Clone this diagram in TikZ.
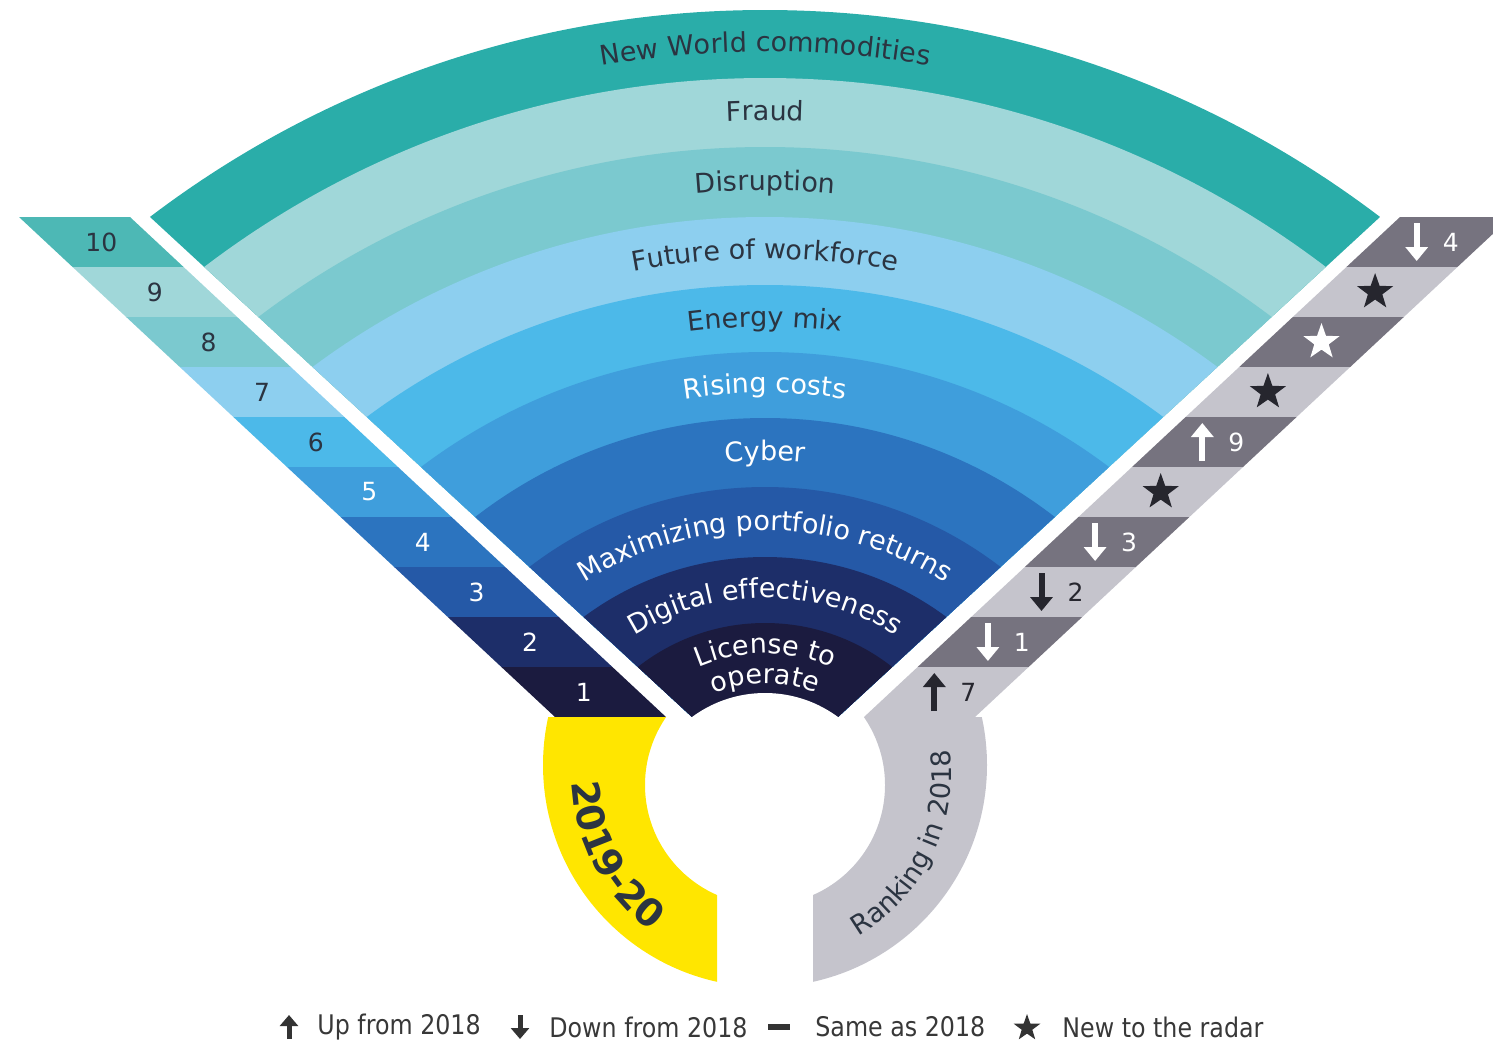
\documentclass[tikz,border=0pt]{standalone}
\usepackage{fontspec}
\setmainfont{DejaVu Sans}
\newfontfamily\legendfont[FakeStretch=0.88]{DejaVu Sans}
\usetikzlibrary{shapes.geometric,arrows.meta,decorations.text}

\definecolor{band1}{HTML}{1B1B3F}
\definecolor{band2}{HTML}{1D2E69}
\definecolor{band3}{HTML}{2559A7}
\definecolor{band4}{HTML}{2C74BF}
\definecolor{band5}{HTML}{3F9EDC}
\definecolor{band6}{HTML}{4CB9E9}
\definecolor{band7}{HTML}{8DCFEF}
\definecolor{band8}{HTML}{7BC9CF}
\definecolor{band9}{HTML}{A0D7D9}
\definecolor{band10}{HTML}{2AADA9}
\definecolor{rowten}{HTML}{4DB8B5}
\definecolor{labeldark}{HTML}{2B3441}
\definecolor{greydark}{HTML}{76737F}
\definecolor{greylight}{HTML}{C5C4CC}
\definecolor{eyyellow}{HTML}{FFE600}
\definecolor{icondark}{HTML}{26262E}

\newcommand\darklab{\color{labeldark}\fontsize{13.5}{16}\selectfont}
\newcommand\whitelab{\color{white}\fontsize{13.5}{16}\selectfont}

\begin{document}
\begin{tikzpicture}[x=0.5pt,y=-0.5pt,
    num/.style={font=\fontsize{12.5}{14}\selectfont, inner sep=0pt},
    arrowmark/.style={line width=3pt, -{Triangle[length=7pt,width=11pt]}},
    legarrow/.style={line width=2.5pt, -{Triangle[length=5.5pt,width=9pt]}},
    starmark/.style={star, star points=5, star point ratio=2.5, inner sep=0pt, minimum size=19pt},
    arctext/.style={decorate, decoration={text along path, text align=center, text={#1}}},
    legtext/.style={anchor=west, inner sep=0pt, text=black!78, font=\legendfont\fontsize{13.5}{16}\selectfont}]
  \useasboundingbox (0,0) rectangle (1493,1041);

  % fan of the ten risks
  \begin{scope}
    \clip (765,784.3) -- (-193.6,-100) -- (1723.6,-100) -- cycle;
    \foreach \yc/\rr/\c in {1027.1/508.55/band10, 1004.5/463.25/band9, 986.8/419.9/band8,
        974.2/378.6/band7, 951.6/333.3/band6, 924/286/band5, 891.7/236.85/band4,
        873.9/193.45/band3, 861.2/152.1/band2, 828.9/102.95/band1}
      \fill[\c] (765,\yc) circle[radius=\rr pt];
  \end{scope}
  \begin{scope}
    \clip (765,790) -- (-200,-104) -- (1730,-104) -- cycle;
    \fill[white] (765,816) circle[radius=61.5pt];
  \end{scope}

  \path[arctext={|\darklab|New World commodities}] (765,1015.8) ++(150:482pt) arc[start angle=150, end angle=30, radius=482pt];
  \path[arctext={|\darklab|Fraud}] (765,995.7) ++(150:437.5pt) arc[start angle=150, end angle=30, radius=437.5pt];
  \path[arctext={|\darklab|Disruption}] (765,980.5) ++(150:395pt) arc[start angle=150, end angle=30, radius=395pt];
  \path[arctext={|\darklab|Future of workforce}] (765,962.9) ++(150:352pt) arc[start angle=150, end angle=30, radius=352pt];
  \path[arctext={|\darklab|Energy mix}] (765,937.8) ++(150:305.5pt) arc[start angle=150, end angle=30, radius=305.5pt];
  \path[arctext={|\whitelab|Rising costs}] (765,907.9) ++(150:257.5pt) arc[start angle=150, end angle=30, radius=257.5pt];
  \path[arctext={|\whitelab|Cyber}] (765,882.8) ++(150:211pt) arc[start angle=150, end angle=30, radius=211pt];
  \path[arctext={|\whitelab|Maximizing portfolio returns}] (765,867.5) ++(150:168.5pt) arc[start angle=150, end angle=30, radius=168.5pt];
  \path[arctext={|\whitelab|Digital effectiveness}] (765,845) ++(150:123.5pt) arc[start angle=150, end angle=30, radius=123.5pt];
  \path[arctext={|\whitelab|License to}] (765,822.5) ++(150:84.5pt) arc[start angle=150, end angle=30, radius=84.5pt];
  \path[arctext={|\whitelab|operate}] (765,822.5) ++(150:69.5pt) arc[start angle=150, end angle=30, radius=69.5pt];

  % 2019-20 ranks on the left
  \foreach \r/\c/\t in {10/rowten/labeldark, 9/band9/labeldark, 8/band8/labeldark, 7/band7/labeldark,
      6/band6/labeldark, 5/band5/white, 4/band4/white, 3/band3/white, 2/band2/white, 1/band1/white} {
    \pgfmathsetmacro\ya{717-50*\r}
    \pgfmathsetmacro\yb{\ya+50}
    \pgfmathsetmacro\xa{19+(\ya-217)*1.072}
    \pgfmathsetmacro\xc{19+(\yb-217)*1.072}
    \fill[\c] (\xa,\ya) -- (\xa+111,\ya) -- (\xc+111,\yb) -- (\xc,\yb) -- cycle;
    \node[num, text=\t] (l\r) at ({(\xa+\xc)/2+55.5},\ya+25) {\r};
  }

  % 2018 ranks on the right
  \foreach \r/\c in {10/greydark, 9/greylight, 8/greydark, 7/greylight, 6/greydark,
      5/greylight, 4/greydark, 3/greylight, 2/greydark, 1/greylight} {
    \pgfmathsetmacro\ya{717-50*\r}
    \pgfmathsetmacro\yb{\ya+50}
    \pgfmathsetmacro\xa{1511-(\ya-217)*1.072}
    \pgfmathsetmacro\xc{1511-(\yb-217)*1.072}
    \fill[\c] (\xa,\ya) -- (\xa-111,\ya) -- (\xc-111,\yb) -- (\xc,\yb) -- cycle;
  }
  \draw[arrowmark, white] (1416.7,223) -- (1416.7,261);
  \node[num, text=white] (r10) at (1450.7,242) {4};
  \node[starmark, fill=icondark] (r9) at (1375.1,292) {};
  \node[starmark, fill=white] (r8) at (1321.5,342) {};
  \node[starmark, fill=icondark] (r7) at (1267.9,392) {};
  \draw[arrowmark, white] (1202.3,461) -- (1202.3,423);
  \node[num, text=white] (r6) at (1236.3,442) {9};
  \node[starmark, fill=icondark] (r5) at (1160.7,492) {};
  \draw[arrowmark, white] (1095.1,523) -- (1095.1,561);
  \node[num, text=white] (r4) at (1129.1,542) {3};
  \draw[arrowmark, icondark] (1041.5,573) -- (1041.5,611);
  \node[num, text=icondark] (r3) at (1075.5,592) {2};
  \draw[arrowmark, white] (987.9,623) -- (987.9,661);
  \node[num, text=white] (r2) at (1021.9,642) {1};
  \draw[arrowmark, icondark] (934.3,711) -- (934.3,673);
  \node[num, text=icondark] (r1) at (968.3,692) {7};

  % year rings
  \begin{scope}
    \clip (0,717) rectangle (717,1041);
    \fill[eyyellow, even odd rule] (765,765) circle[radius=111pt] (765,785) circle[radius=60pt];
  \end{scope}
  \begin{scope}
    \clip (813,717) rectangle (1493,1041);
    \fill[greylight, even odd rule] (765,765) circle[radius=111pt] (765,785) circle[radius=60pt];
  \end{scope}
  \path[arctext={|\color{labeldark}\bfseries\fontsize{19}{21}\selectfont|2019-20}] (765,775) ++(148:96.5pt) arc[start angle=148, end angle=268, radius=96.5pt];
  \path[arctext={|\color{labeldark}\fontsize{13.5}{16}\selectfont|Ranking in 2018}] (765,775) ++(-86:93pt) arc[start angle=-86, end angle=34, radius=93pt];

  % legend
  \draw[legarrow, black!80] (289,1039) -- (289,1015);
  \node[legtext] (up) at (317,1027) {Up from 2018};
  \draw[legarrow, black!80] (520,1015) -- (520,1039);
  \node[legtext] (down) at (549,1027) {Down from 2018};
  \draw[line width=3pt, black!80] (768,1027) -- (790,1027);
  \node[legtext] (same) at (815,1027) {Same as 2018};
  \node[starmark, fill=black!80, minimum size=14pt] (newstar) at (1027,1028) {};
  \node[legtext] (new) at (1062,1027) {New to the radar};
\end{tikzpicture}
\end{document}
